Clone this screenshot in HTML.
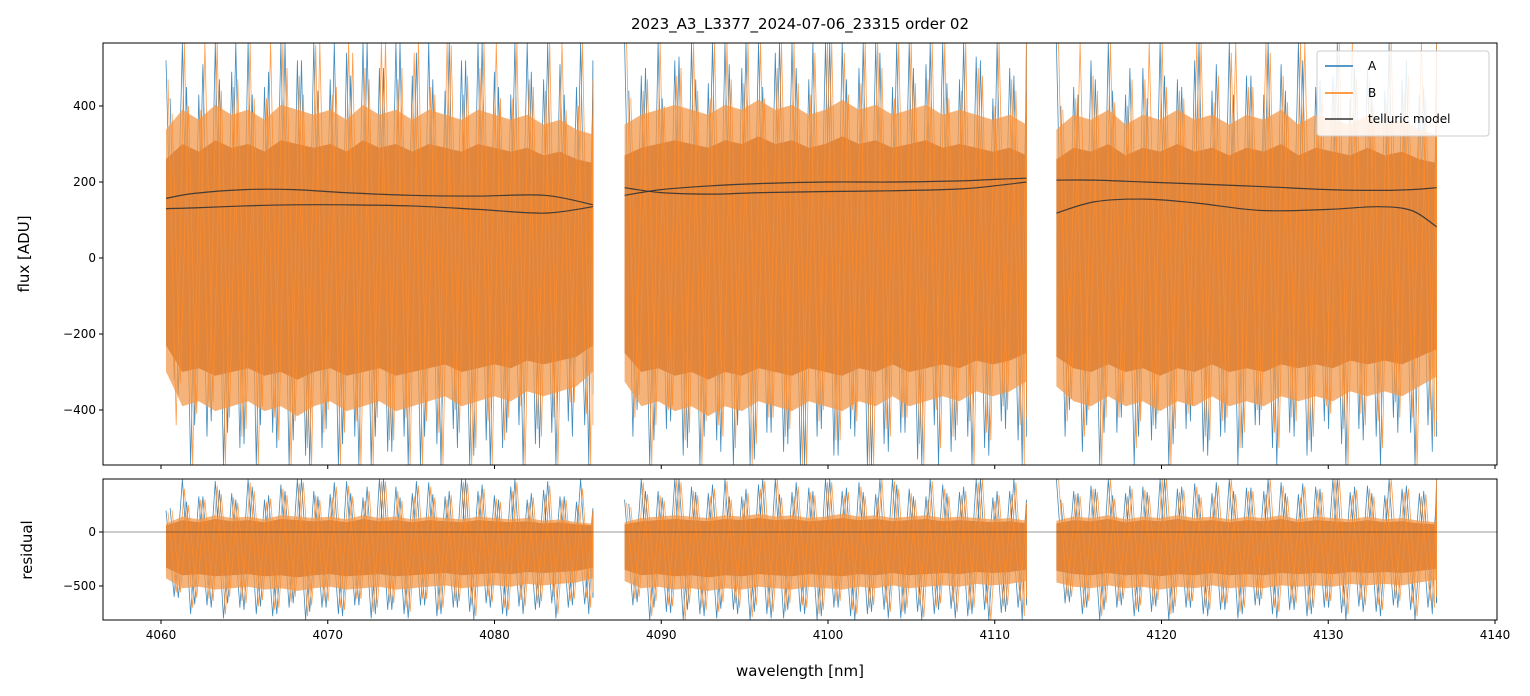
<!DOCTYPE html>
<html><head><meta charset="utf-8">
<style>
html,body{margin:0;padding:0;background:#fff;}
svg{display:block;font-family:"DejaVu Sans","Liberation Sans",sans-serif;}
</style></head>
<body>
<svg id="chart" width="1530" height="696" viewBox="0 0 1530 696" xmlns="http://www.w3.org/2000/svg">
<rect width="1530" height="696" fill="#fff"/>
<text x="800" y="29" font-size="15" text-anchor="middle">2023_A3_L3377_2024-07-06_23315  order 02</text>
<g id="top-panel"></g>
<g id="bot-panel"></g>
<text transform="translate(29,254) rotate(-90)" font-size="15" text-anchor="middle">flux [ADU]</text>
<text transform="translate(32,550) rotate(-90)" font-size="15" text-anchor="middle">residual</text>
<text x="800" y="676" font-size="15" text-anchor="middle">wavelength [nm]</text>
<g>
<rect x="1317" y="51" width="172" height="85" rx="3" fill="#fff" fill-opacity="0.85" stroke="#ccc"/>
<line x1="1325" y1="66" x2="1353" y2="66" stroke="#1f77b4" stroke-width="1.5"/>
<text x="1368" y="70" font-size="12">A</text>
<line x1="1325" y1="93" x2="1353" y2="93" stroke="#ff7f0e" stroke-width="1.5"/>
<text x="1368" y="97" font-size="12">B</text>
<line x1="1325" y1="119" x2="1353" y2="119" stroke="#333" stroke-width="1.5"/>
<text x="1368" y="123" font-size="12">telluric model</text>
</g>
</svg>
<script>
// ---- data ----
const segStarts = [4060.3, 4087.8, 4113.7];
const segEnds = [4085.9, 4111.9, 4136.5];
const xTicks = [4060, 4070, 4080, 4090, 4100, 4110, 4120, 4130, 4140];
const fluxTicks = [-400, -200, 0, 200, 400];
const resTicks = [-500, 0];
const fluxAUp = [
 [520,566,430,566,490,566,450,566,520,566,470,540,566,500,566,480,566,440,520,566,490,430,566,470,510,450,420],
 [566,480,566,520,566,460,566,500,566,540,566,470,566,566,500,566,450,566,510,566,470,530,420,500,440],
 [566,450,520,566,430,500,566,470,520,440,566,480,430,510,566,450,480,420,500,440,470,430,400]];
const fluxBUp = [
 [470,566,390,566,450,566,420,566,480,560,430,566,500,566,470,540,450,566,430,500,566,420,470,440,566,400,380],
 [566,440,566,480,566,420,566,460,566,500,566,430,566,540,460,566,420,566,470,566,440,500,400,470,420],
 [566,420,480,566,400,470,566,440,566,410,540,450,566,480,566,420,450,566,470,410,440,566,390]];
const fluxBLo = [
 [-440,-545,-380,-545,-470,-545,-420,-545,-500,-460,-545,-430,-545,-480,-420,-545,-460,-400,-545,-430,-480,-390,-450,-420,-380,-410,-330],
 [-420,-545,-400,-480,-545,-440,-500,-545,-420,-470,-545,-430,-480,-400,-545,-450,-420,-490,-400,-470,-430,-460,-390,-440,-360],
 [-430,-470,-545,-420,-500,-440,-545,-410,-470,-430,-500,-400,-460,-420,-480,-390,-450,-410,-430,-380,-420,-400,-370]];
const fluxALo = [
 [-320,-545,-470,-545,-500,-545,-460,-545,-520,-500,-545,-470,-545,-510,-470,-545,-490,-450,-545,-480,-500,-440,-490,-460,-430,-440,-360],
 [-470,-545,-450,-520,-545,-480,-545,-545,-460,-510,-545,-470,-520,-450,-545,-490,-460,-530,-440,-510,-470,-500,-430,-480,-400],
 [-470,-510,-545,-460,-545,-480,-545,-450,-510,-470,-545,-440,-500,-460,-520,-430,-490,-450,-470,-420,-460,-440,-400]];
const fluxCoreUp = [
 [260,300,280,310,290,300,280,310,300,290,300,280,310,290,300,280,300,290,280,300,290,280,290,270,280,260,250],
 [270,290,300,310,300,290,310,300,320,300,310,290,300,320,300,310,290,300,310,290,300,290,280,290,270],
 [260,290,280,300,270,290,280,300,280,290,270,290,280,300,270,290,280,270,290,270,280,260,250]];
const fluxCoreLo = [
 [-230,-300,-290,-310,-300,-290,-310,-300,-320,-300,-290,-310,-300,-290,-310,-300,-290,-280,-300,-290,-280,-290,-270,-280,-270,-260,-230],
 [-250,-300,-290,-310,-300,-320,-300,-310,-290,-300,-310,-290,-300,-310,-290,-300,-280,-300,-290,-280,-290,-270,-280,-270,-250],
 [-260,-290,-300,-280,-300,-290,-310,-290,-300,-280,-300,-290,-300,-280,-290,-280,-290,-270,-280,-270,-280,-260,-240]];
const resAUp = [
 [200,491,330,470,360,491,300,440,491,380,350,470,320,491,420,360,460,330,491,380,340,420,300,390,330,280,220],
 [300,491,380,491,420,360,491,330,440,491,370,410,491,380,460,350,491,400,330,440,370,491,320,380,260],
 [491,380,430,491,360,420,491,400,450,360,491,410,380,460,350,420,491,370,430,340,400,360,300]];
const resBUp = [
 [180,400,300,430,320,460,280,400,450,340,320,430,290,470,380,330,420,300,460,340,310,380,270,350,300,250,200],
 [270,460,340,491,380,330,470,300,400,491,330,370,460,340,420,320,470,360,300,400,340,460,290,350,230],
 [491,350,400,491,330,390,491,370,420,330,491,380,350,430,320,390,491,340,400,310,370,330,270]];
const resBLo = [
 [-560,-700,-620,-760,-640,-690,-720,-650,-780,-640,-700,-620,-740,-660,-700,-620,-720,-640,-680,-600,-700,-630,-660,-600,-640,-610,-560],
 [-620,-780,-680,-815,-700,-740,-660,-790,-700,-740,-680,-760,-640,-720,-700,-660,-740,-680,-700,-650,-720,-660,-690,-640,-600],
 [-600,-700,-780,-640,-720,-680,-760,-640,-700,-660,-740,-620,-700,-660,-720,-640,-690,-630,-680,-620,-660,-640,-600]];
const resALo = [
 [-600,-760,-680,-800,-700,-760,-780,-700,-815,-700,-760,-680,-800,-720,-760,-680,-780,-700,-740,-660,-760,-690,-720,-660,-700,-670,-610],
 [-680,-815,-740,-815,-760,-800,-720,-815,-760,-800,-740,-815,-700,-780,-760,-720,-800,-740,-760,-710,-780,-720,-750,-700,-650],
 [-660,-760,-815,-700,-780,-740,-815,-700,-760,-720,-800,-680,-760,-720,-780,-700,-750,-690,-740,-680,-720,-700,-650]];
const resCoreUp = [
 [60,110,90,120,100,110,90,120,110,100,110,90,120,100,110,90,110,100,90,110,100,90,100,80,90,70,60],
 [70,100,110,120,110,100,120,110,130,110,120,100,110,130,110,120,100,110,120,100,110,100,90,100,80],
 [80,110,100,120,90,110,100,120,100,110,90,110,100,120,90,110,100,90,110,90,100,80,70]];
const resCoreLo = [
 [-330,-400,-390,-410,-400,-390,-410,-400,-420,-400,-390,-410,-400,-390,-410,-400,-390,-380,-400,-390,-380,-390,-370,-380,-370,-360,-330],
 [-350,-400,-390,-410,-400,-420,-400,-410,-390,-400,-410,-390,-400,-410,-390,-400,-380,-400,-390,-380,-390,-370,-380,-370,-350],
 [-360,-390,-400,-380,-400,-390,-410,-390,-400,-380,-400,-390,-400,-380,-390,-380,-390,-370,-380,-370,-380,-360,-340]];
const tellWave = [
 [4060.3,4062,4065,4068,4071,4075,4079,4083,4085.9],
 [4087.8,4090,4093,4096,4100,4104,4108,4110,4111.9],
 [4113.7,4116,4119,4122,4126,4130,4133,4135,4136.5]];
const tellA = [
 [157,170,180,180,172,165,163,165,140],
 [185,172,168,172,175,177,182,190,200],
 [205,205,200,195,188,180,178,180,185]];
const tellB = [
 [130,132,137,140,140,137,128,118,135],
 [165,180,190,196,200,200,203,207,210],
 [118,148,155,145,125,128,135,125,82]];

// ---- scales ----
const X0 = 103, X1 = 1497;
const xs = w => 161 + (w - 4060) * (1495 - 161) / 80;
const T0 = 43, T1 = 465;
const ysT = v => 258 - v * 0.38;
const B0 = 479, B1 = 620;
const ysB = v => 532 - v * 0.108;
const NS = 'http://www.w3.org/2000/svg';
function mk(parent, tag, attrs) {
  const el = document.createElementNS(NS, tag);
  for (const k in attrs) el.setAttribute(k, attrs[k]);
  parent.appendChild(el);
  return el;
}
function wv(s, n, i) { return segStarts[s] + (segEnds[s] - segStarts[s]) * Math.min(i, n - 1) / (n - 1); }
function band(g, s, up, lo, ys, k, color, op, name) {
  const n = up.length;
  let pts = [];
  for (let i = 0; i < n; i++) pts.push(xs(wv(s, n, i)).toFixed(1) + ',' + ys(up[i] * k).toFixed(1));
  for (let i = n - 1; i >= 0; i--) pts.push(xs(wv(s, n, i)).toFixed(1) + ',' + ys(lo[i] * k).toFixed(1));
  const p = mk(g, 'polygon', {points: pts.join(' '), fill: color, 'fill-opacity': op});
  
  
}
// zigzag through the envelope; offset and order vary per pass
function zig(g, s, up, lo, ys, color, op, off, rev, name) {
  const n = up.length;
  let d = '';
  for (let i = 0; i < n; i++) {
    const j = rev ? n - 1 - i : i;
    const xa = xs(wv(s, n, i + off)), xb = xs(wv(s, n, i + off + 0.5));
    d += (i === 0 ? 'M' : 'L') + xa.toFixed(1) + ',' + ys(up[j]).toFixed(1) + ' L' + xb.toFixed(1) + ',' + ys(lo[j]).toFixed(1) + ' ';
  }
  const p = mk(g, 'path', {d: d, fill: 'none', stroke: color, 'stroke-width': 0.8, 'stroke-opacity': op});
  
  
}
function panel(g, top, bot, ys, ticks, sets, clipId, showXLabels, zeroLine) {
  const defs = mk(g, 'defs', {});
  const cp = mk(defs, 'clipPath', {id: clipId});
  mk(cp, 'rect', {x: X0, y: top, width: X1 - X0, height: bot - top});
  const data = mk(g, 'g', {'clip-path': 'url(#' + clipId + ')'});
  for (let s = 0; s < 3; s++) {
    zig(data, s, sets.aUp[s], sets.aLo[s], ys, '#1f77b4', 0.85, 0, false, 'series-a-seg' + s);
    zig(data, s, sets.aUp[s], sets.aLo[s], ys, '#1f77b4', 0.85, 0.25, true, 'series-a-seg' + s + '-b');
    band(data, s, sets.cUp[s], sets.cLo[s], ys, 1.3, '#f39a4c', 0.75, 'series-halo-seg' + s);
    band(data, s, sets.cUp[s], sets.cLo[s], ys, 1, '#df843a', 0.95, 'series-core-seg' + s);
    zig(data, s, sets.bUp[s], sets.bLo[s], ys, '#ff8c2a', 0.85, 0.12, false, 'series-b-seg' + s);
    zig(data, s, sets.bUp[s], sets.bLo[s], ys, '#ff8c2a', 0.85, 0.37, true, 'series-b-seg' + s + '-b');
  }
  if (zeroLine) {
    const zl = mk(data, 'line', {x1: X0, x2: X1, y1: ys(0), y2: ys(0), stroke: '#333', 'stroke-width': 0.6});
    
    
  }
  if (sets.tell) {
    for (let s = 0; s < 3; s++) {
      for (const arr of [tellA, tellB]) {
        const n = tellWave[s].length;
        const P = tellWave[s].map((w, i) => [xs(w), ys(arr[s][i])]);
        let d = 'M' + P[0][0] + ',' + P[0][1];
        for (let i = 0; i < n - 1; i++) {
          const p0 = P[Math.max(0, i - 1)], p1 = P[i], p2 = P[i + 1], p3 = P[Math.min(n - 1, i + 2)];
          d += ' C' + (p1[0] + (p2[0] - p0[0]) / 6) + ',' + (p1[1] + (p2[1] - p0[1]) / 6) + ' ' +
               (p2[0] - (p3[0] - p1[0]) / 6) + ',' + (p2[1] - (p3[1] - p1[1]) / 6) + ' ' + p2[0] + ',' + p2[1];
        }
        const l = mk(data, 'path', {d: d, fill: 'none', stroke: '#333', 'stroke-width': 1.2, 'stroke-opacity': 0.9});
        
        
      }
    }
  }
  const fr = mk(g, 'rect', {x: X0, y: top, width: X1 - X0, height: bot - top, fill: 'none', stroke: '#000', 'stroke-width': 1});
  
  
  for (const t of ticks) {
    const y = ys(t);
    mk(g, 'line', {x1: X0 - 4, x2: X0, y1: y, y2: y, stroke: '#000'});
    const tx = mk(g, 'text', {x: X0 - 7, y: y + 4, 'font-size': 12, 'text-anchor': 'end'});
    tx.textContent = t < 0 ? '\u2212' + (-t) : String(t);
    
    
  }
  for (const t of xTicks) {
    const x = xs(t);
    mk(g, 'line', {x1: x, x2: x, y1: bot, y2: bot + 4, stroke: '#000'});
    if (showXLabels) {
      const tx = mk(g, 'text', {x: x, y: bot + 19, 'font-size': 12, 'text-anchor': 'middle'});
      tx.textContent = String(t);
      
      
    }
  }
}
panel(document.getElementById('top-panel'), T0, T1, ysT, fluxTicks,
  {aUp: fluxAUp, aLo: fluxALo, bUp: fluxBUp, bLo: fluxBLo, cUp: fluxCoreUp, cLo: fluxCoreLo, tell: true}, 'clipTop', false, false);
panel(document.getElementById('bot-panel'), B0, B1, ysB, resTicks,
  {aUp: resAUp, aLo: resALo, bUp: resBUp, bLo: resBLo, cUp: resCoreUp, cLo: resCoreLo, tell: false}, 'clipBot', true, true);
</script>
</body></html>
